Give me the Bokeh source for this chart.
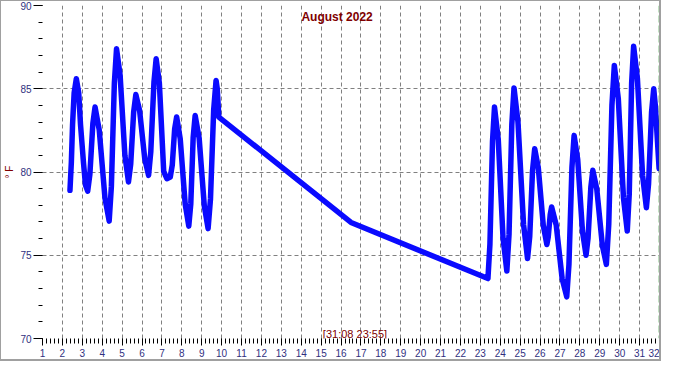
from bokeh.plotting import figure
from bokeh.models import Range1d, FixedTicker, SingleIntervalTicker, Span, Label
from bokeh.embed import file_html
from bokeh.resources import INLINE

# --- data (day of month, temperature in deg F) ---
days_first = [2.38, 2.45, 2.51, 2.59, 2.70, 2.82, 2.91, 3.06, 3.16, 3.27,
              3.38, 3.53, 3.64, 3.85, 4.14, 4.35, 4.46, 4.61, 4.72, 4.90,
              5.14, 5.32, 5.43, 5.58, 5.69, 5.88, 6.14, 6.33, 6.44, 6.60,
              6.71, 6.87, 7.09, 7.25, 7.42, 7.52, 7.64, 7.74, 7.92, 8.17,
              8.35, 8.45, 8.57, 8.67, 8.87, 9.13, 9.32, 9.44, 9.60, 9.72,
              9.78, 9.86]
temps_first = [78.9, 80.6, 82.85, 84.75, 85.6, 84.75, 82.85, 80.55, 79.22, 78.85,
               79.86, 82.9, 83.9, 82.53, 78.42, 77.05, 79.12, 85.33, 87.4, 85.8,
               81.0, 79.4, 80.45, 83.6, 84.65, 83.68, 80.77, 79.8, 81.2, 85.4,
               86.8, 85.36, 80.04, 79.6, 79.7, 80.42, 82.58, 83.3, 81.99, 78.06,
               76.75, 78.08, 82.07, 83.4, 82.04, 77.96, 76.6, 78.38, 83.72, 85.5,
               85.0, 83.3]
days_gap = [16.50]
temps_gap = [76.97]
days_last = [23.38, 23.48, 23.61, 23.71, 23.90, 24.14, 24.33, 24.44, 24.58, 24.69,
             24.89, 25.17, 25.37, 25.48, 25.62, 25.73, 25.91, 26.16, 26.34, 26.41,
             26.51, 26.58, 26.81, 27.11, 27.34, 27.45, 27.60, 27.71, 27.89, 28.13,
             28.31, 28.41, 28.55, 28.65, 28.85, 29.13, 29.33, 29.45, 29.61, 29.73,
             29.93, 30.19, 30.38, 30.48, 30.60, 30.70, 30.89, 31.15, 31.34, 31.45,
             31.60, 31.71, 31.79, 31.98]
temps_last = [73.6, 75.66, 81.84, 83.9, 81.93, 76.02, 74.05, 76.25, 82.85, 85.05,
              83.0, 76.85, 74.8, 76.12, 80.08, 81.4, 80.25, 76.8, 75.65, 76.1,
              77.45, 77.9, 76.82, 73.58, 72.5, 74.44, 80.26, 82.2, 80.76, 76.44,
              75.0, 76.02, 79.08, 80.1, 78.97, 75.58, 74.45, 76.84, 84.01, 86.4,
              84.41, 78.44, 76.45, 78.67, 85.33, 87.55, 85.61, 79.79, 77.85, 79.28,
              83.57, 85.0, 84.0, 80.2]

days = days_first + days_gap + days_last
temps = temps_first + temps_gap + temps_last

x_grid_days = list(range(2, 32))
y_grid_temps = [75, 80, 85]
current_day = 32
title_text = "August 2022"
stamp_text = "[31;08 23:55]"
y_label = "° F"

FONT = "Liberation Sans"
DARK_RED = "#800000"
TICK_BLUE = "#303080"

p = figure(width=661, height=361,
           x_range=Range1d(1, 32), y_range=Range1d(70, 90),
           output_backend="svg", toolbar_location=None,
           min_border_left=34, min_border_right=3,
           min_border_top=4, min_border_bottom=24)
p.styles = {"border-left": "1px solid #a0a0a0", "border-top": "1px solid #a0a0a0",
            "border-right": "2px solid #a0a0a0", "border-bottom": "2px solid #a0a0a0"}

p.background_fill_color = "white"
p.border_fill_color = "white"
p.outline_line_color = None

# axes
p.xaxis.ticker = SingleIntervalTicker(interval=1, num_minor_ticks=5)
p.yaxis.ticker = SingleIntervalTicker(interval=5, num_minor_ticks=5)
for ax in (p.xaxis[0], p.yaxis[0]):
    ax.axis_line_color = None
    ax.major_tick_in = 0
    ax.minor_tick_in = 0
    ax.major_tick_line_color = "black"
    ax.minor_tick_line_color = "black"
    ax.major_label_text_font = FONT
    ax.major_label_text_font_size = "10px"
    ax.major_label_text_color = TICK_BLUE
p.xaxis.major_tick_out = 7
p.xaxis.minor_tick_out = 5
p.xaxis.major_label_standoff = 3
p.yaxis.major_tick_out = 9
p.yaxis.minor_tick_out = 4
p.yaxis.major_label_standoff = 2
p.yaxis.axis_label = y_label
p.yaxis.axis_label_text_font = FONT
p.yaxis.axis_label_text_font_size = "10px"
p.yaxis.axis_label_text_font_style = "normal"
p.yaxis.axis_label_text_color = DARK_RED
p.yaxis.axis_label_standoff = 2

# grid
p.xgrid.ticker = FixedTicker(ticks=x_grid_days)
p.ygrid.ticker = FixedTicker(ticks=y_grid_temps)
for g in (p.xgrid[0], p.ygrid[0]):
    g.grid_line_color = "#808080"
    g.grid_line_dash = "4 3"
    g.grid_line_width = 1

p.add_layout(Span(location=current_day, dimension="height", line_color="#008000",
                  line_dash="7 3", line_width=1.5))

p.line(days, temps, line_width=5.5, line_color="#0a0aff",
       line_join="round", line_cap="round")

p.add_layout(Label(x=15.8, y=89.3, text=title_text, text_align="center",
                   text_baseline="middle", text_font=FONT, text_font_size="12px",
                   text_font_style="bold", text_color=DARK_RED))
p.add_layout(Label(x=16.7, y=70.29, text=stamp_text, text_align="center",
                   text_baseline="middle", text_font=FONT, text_font_size="11px",
                   text_color=DARK_RED))

open("out.html", "w").write(file_html(p, INLINE))
